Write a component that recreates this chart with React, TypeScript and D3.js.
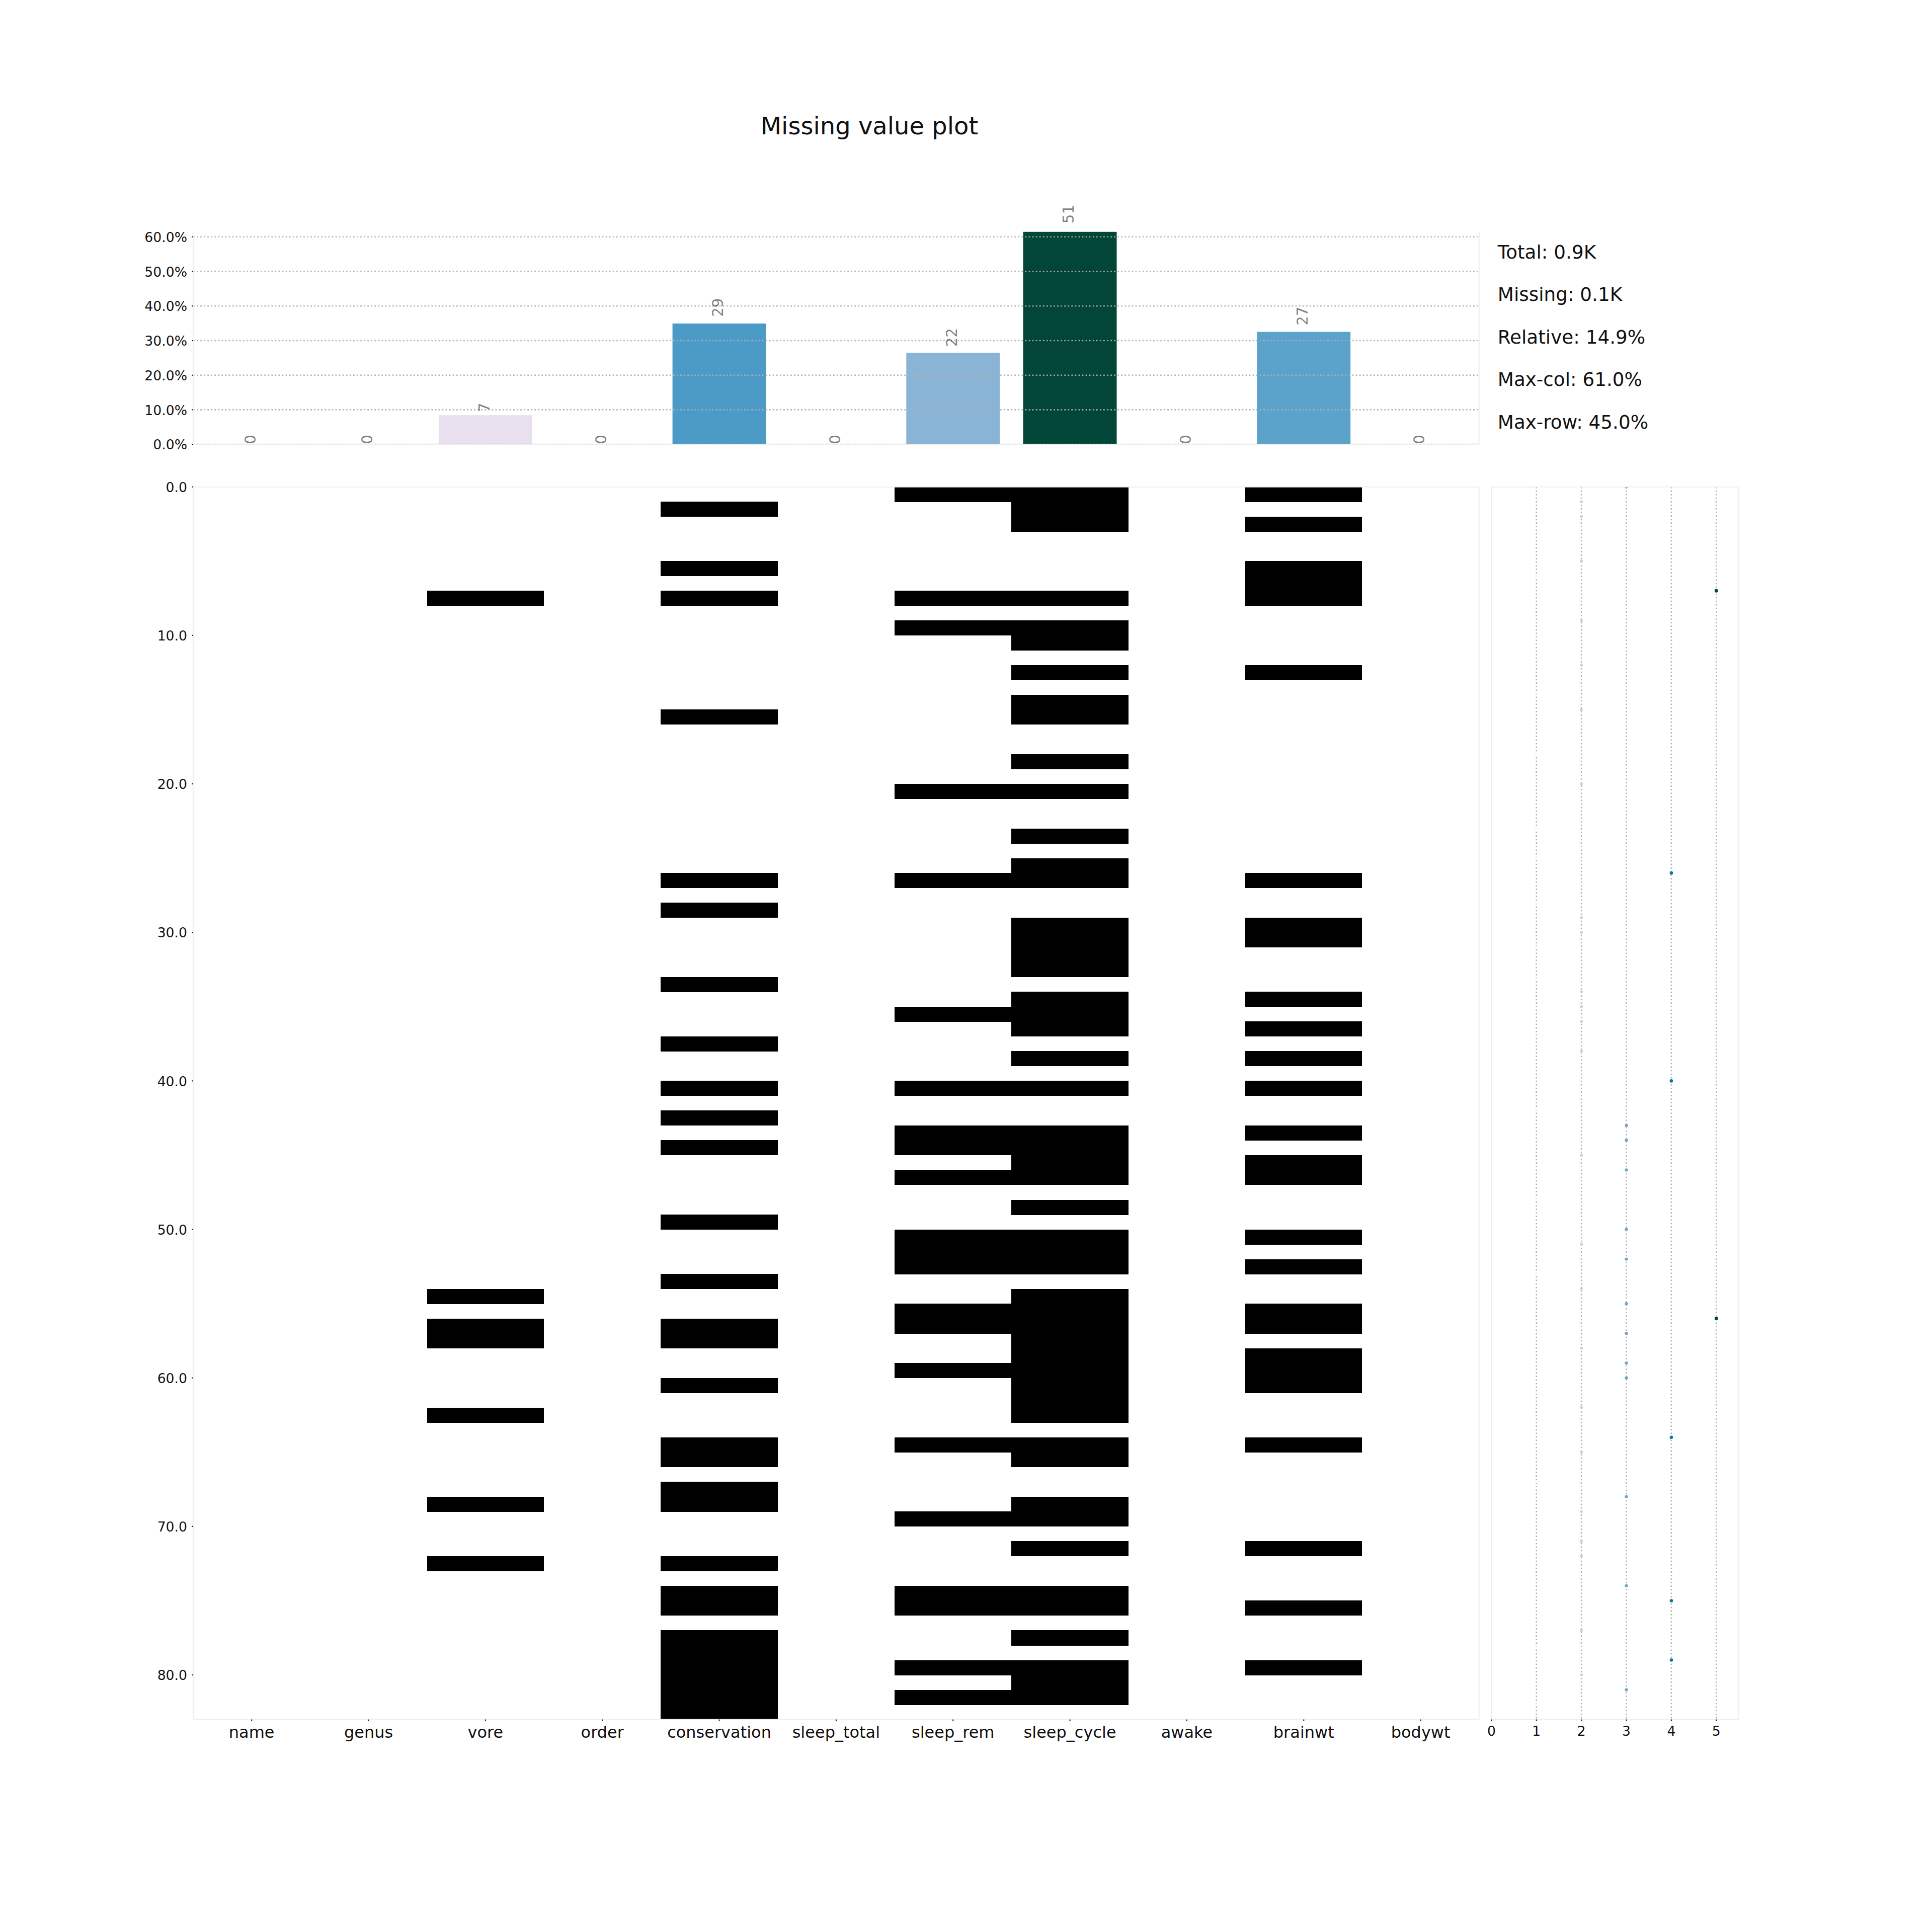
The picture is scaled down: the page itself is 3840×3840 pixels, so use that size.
import React from "react";
import * as d3 from "d3";

// msleep: which rows are missing, per column (0-based row index)
const columns = ["name", "genus", "vore", "order", "conservation", "sleep_total", "sleep_rem", "sleep_cycle", "awake", "brainwt", "bodywt"];
const nRows = 83;

const missingVore = [7, 54, 56, 57, 62, 68, 72];
const missingConservation = [1, 5, 7, 15, 26, 28, 33, 37, 40, 42, 44, 49, 53, 56, 57, 60, 64, 65, 67, 68, 72, 74, 75, 77, 78, 79, 80, 81, 82];
const missingSleepRem = [0, 7, 9, 20, 26, 35, 40, 43, 44, 46, 50, 51, 52, 55, 56, 59, 64, 69, 74, 75, 79, 81];
const missingSleepCycle = [0, 1, 2, 7, 9, 10, 12, 14, 15, 18, 20, 23, 25, 26, 29, 30, 31, 32, 34, 35, 36, 38, 40, 43, 44, 45, 46, 48, 50, 51, 52, 54, 55, 56, 57, 58, 59, 60, 61, 62, 64, 65, 68, 69, 71, 74, 75, 77, 79, 80, 81];
const missingBrainwt = [0, 2, 5, 6, 7, 12, 26, 29, 30, 34, 36, 38, 40, 43, 45, 46, 50, 52, 55, 56, 58, 59, 60, 64, 71, 75, 79];

const pctTicks = [0, 10, 20, 30, 40, 50, 60];
const rowTicks = [0, 10, 20, 30, 40, 50, 60, 70, 80];
const countTicks = [0, 1, 2, 3, 4, 5];

const missingByColumn: Record<string, number[]> = {
    vore: missingVore,
    conservation: missingConservation,
    sleep_rem: missingSleepRem,
    sleep_cycle: missingSleepCycle,
    brainwt: missingBrainwt,
};

// PuBuGn as matplotlib builds it (linear between the 9 brewer colours)
const puBuGn = ["#fff7fb", "#ece2f0", "#d0d1e6", "#a6bddb", "#67a9cf", "#3690c0", "#02818a", "#016c59", "#014636"];
const cmap = d3.scaleLinear<string>()
    .domain(d3.range(9).map(i => i / 8))
    .range(puBuGn)
    .interpolate(d3.interpolateRgb)
    .clamp(true);

const px = 192 / 72; // points -> pixels
const font = "DejaVu Sans";
const spineColor = "#EEEEEE";
const gridProps = {stroke: "#b0b0b0", strokeWidth: px, strokeDasharray: `${px} ${1.65 * px}`};

const ax1 = {x0: 384, x1: 2939.8, y0: 460.8, y1: 883.2};
const ax2 = {x0: 384, x1: 2939.8, y0: 967.7, y1: 3417.6};
const ax3 = {x0: 2964.4, x1: 3456, y0: 460.8, y1: 883.2};
const ax4 = {x0: 2964.4, x1: 3456, y0: 967.7, y1: 3417.6};

export default function App() {
    const mvCols = columns.map(c => (missingByColumn[c] || []).length);
    const mvRows = d3.range(nRows).map(r =>
        columns.filter(c => (missingByColumn[c] || []).includes(r)).length
    );
    const mvPct = mvCols.map(v => v / nRows * 100);
    const maxCol = d3.max(mvCols) as number;
    const maxRow = d3.max(mvRows) as number;
    const total = nRows * columns.length;
    const mvTotal = d3.sum(mvCols);

    const xBar = d3.scaleLinear().domain([-0.5, columns.length - 0.5]).range([ax1.x0, ax1.x1]);
    const yPct = d3.scaleLinear().domain([0, d3.max(mvPct) as number]).range([ax1.y1, ax1.y0]);
    const xCell = d3.scaleLinear().domain([0, columns.length]).range([ax2.x0, ax2.x1]);
    const yRow = d3.scaleLinear().domain([0, nRows]).range([ax2.y0, ax2.y1]);
    const xCnt = d3.scaleLinear().domain([0, maxRow + 0.5]).range([ax4.x0, ax4.x1]);
    const dotColor = d3.scaleLinear().domain([1, maxRow]).range([0, 1]);

    const summary = [
        `Total: ${(total / 1000).toFixed(1)}K`,
        `Missing: ${(mvTotal / 1000).toFixed(1)}K`,
        `Relative: ${(mvTotal / total * 100).toFixed(1)}%`,
        `Max-col: ${Math.round(maxCol / nRows * 100).toFixed(1)}%`,
        `Max-row: ${Math.round(maxRow / columns.length * 100).toFixed(1)}%`,
    ];
    const summaryPos = [0.875, 0.675, 0.475, 0.275, 0.075];

    const spine = (x1: number, y1: number, x2: number, y2: number, key: string) =>
        <line key={key} x1={x1} y1={y1} x2={x2} y2={y2} stroke={spineColor} strokeWidth={0.8 * px}/>;

    return (
        <svg width={3840} height={3840} style={{position: "absolute", left: 0, top: 0, background: "white"}}
             fontFamily={font}>
            <defs>
                <clipPath id="ax4clip">
                    <rect x={ax4.x0} y={ax4.y0} width={ax4.x1 - ax4.x0} height={ax4.y1 - ax4.y0}/>
                </clipPath>
            </defs>

            <text x={0.45 * 3840} y={230.4 + 0.76 * 18 * px} fontSize={18 * px} textAnchor="middle" fill="#111111">
                Missing value plot
            </text>

            {/* ax1: bars of missing share per column */}
            <g>
                {mvPct.map((v, i) => (
                    <rect key={columns[i]} x={xBar(i - 0.4)} width={xBar(i + 0.4) - xBar(i - 0.4)}
                          y={yPct(v)} height={yPct(0) - yPct(v)} fill={cmap(mvCols[i] / maxCol)}/>
                ))}
                {pctTicks.map(t => (
                    <line key={t} x1={ax1.x0} x2={ax1.x1} y1={yPct(t)} y2={yPct(t)} {...gridProps}/>
                ))}
                {spine(ax1.x0, ax1.y0, ax1.x0, ax1.y1, "l")}
                {spine(ax1.x1, ax1.y0, ax1.x1, ax1.y1, "r")}
                {spine(ax1.x0, ax1.y1, ax1.x1, ax1.y1, "b")}
                {pctTicks.map(t => (
                    <g key={t} transform={`translate(${ax1.x0},${yPct(t)})`}>
                        <line x1={-px} x2={0} stroke="#111111" strokeWidth={0.8 * px}/>
                        <text x={-px - 3.5 * px} dy="0.38em" textAnchor="end" fontSize={10 * px} fill="#111111">
                            {`${t.toFixed(1)}%`}
                        </text>
                    </g>
                ))}
                {mvPct.map((v, i) => (
                    <text key={columns[i]}
                          transform={`translate(${xBar(i)},${yPct(v + Math.max(Math.log(1 + v / 6), 0.075))}) rotate(-90)`}
                          dy="0.26em" fontSize={11 * px} fill="#000000" fillOpacity={0.5}>
                        {mvCols[i]}
                    </text>
                ))}
            </g>

            {/* ax2: heatmap of missing cells */}
            <g shapeRendering="crispEdges">
                {columns.map((c, i) => (missingByColumn[c] || []).map(r => (
                    <rect key={`${c}-${r}`} x={xCell(i)} width={xCell(i + 1) - xCell(i)}
                          y={yRow(r)} height={yRow(r + 1) - yRow(r) + 0.5} fill="#000000"/>
                )))}
            </g>
            <g>
                {spine(ax2.x0, ax2.y0, ax2.x1, ax2.y0, "t")}
                {spine(ax2.x0, ax2.y0, ax2.x0, ax2.y1, "l")}
                {spine(ax2.x1, ax2.y0, ax2.x1, ax2.y1, "r")}
                {spine(ax2.x0, ax2.y1, ax2.x1, ax2.y1, "b")}
                {rowTicks.map(t => (
                    <g key={t} transform={`translate(${ax2.x0},${yRow(t)})`}>
                        <line x1={-px} x2={0} stroke="#111111" strokeWidth={0.8 * px}/>
                        <text x={-px - 3.5 * px} dy="0.38em" textAnchor="end" fontSize={10 * px} fill="#111111">
                            {t.toFixed(1)}
                        </text>
                    </g>
                ))}
                {columns.map((c, i) => (
                    <g key={c} transform={`translate(${xCell(i + 0.5)},${ax2.y1})`}>
                        <line y1={0} y2={px} stroke="#111111" strokeWidth={0.8 * px}/>
                        <text y={px + 3.5 * px + 0.76 * 12 * px} textAnchor="middle" fontSize={12 * px} fill="#111111">
                            {c}
                        </text>
                    </g>
                ))}
            </g>

            {/* ax3: summary */}
            <g>
                {summary.map((s, i) => (
                    <text key={s} x={ax3.x0 + 0.025 * (ax3.x1 - ax3.x0)}
                          y={ax3.y1 - summaryPos[i] * (ax3.y1 - ax3.y0)}
                          fontSize={14 * px} fill="#111111">
                        {s}
                    </text>
                ))}
            </g>

            {/* ax4: missing values per row */}
            <g>
                {countTicks.map(t => (
                    <line key={t} x1={xCnt(t)} x2={xCnt(t)} y1={ax4.y0} y2={ax4.y1} {...gridProps}/>
                ))}
                <g clipPath="url(#ax4clip)">
                    {mvRows.map((v, r) => v > 0 && (
                        <circle key={r} cx={xCnt(v)} cy={yRow(r)}
                                r={(0.5 * Math.sqrt(v) + 1.5) * px / 2}
                                fill={cmap(Math.max(0, dotColor(v)))}/>
                    ))}
                </g>
                {spine(ax4.x0, ax4.y0, ax4.x1, ax4.y0, "t")}
                {spine(ax4.x0, ax4.y0, ax4.x0, ax4.y1, "l")}
                {spine(ax4.x1, ax4.y0, ax4.x1, ax4.y1, "r")}
                {spine(ax4.x0, ax4.y1, ax4.x1, ax4.y1, "b")}
                {countTicks.map(t => (
                    <g key={t} transform={`translate(${xCnt(t)},${ax4.y1})`}>
                        <line y1={0} y2={px} stroke="#111111" strokeWidth={0.8 * px}/>
                        <text y={px + 3.5 * px + 0.76 * 10 * px} textAnchor="middle" fontSize={10 * px} fill="#111111">
                            {t}
                        </text>
                    </g>
                ))}
            </g>
        </svg>
    );
}
